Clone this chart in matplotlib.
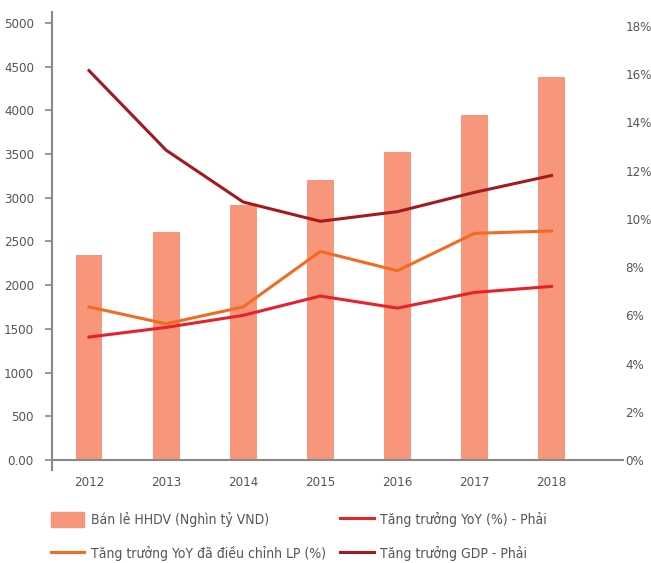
import numpy as np
import matplotlib.pyplot as plt
from matplotlib.patches import Patch
from matplotlib.lines import Line2D

years = ['2012', '2013', '2014', '2015', '2016', '2017', '2018']
ban_le = [2350, 2610, 2920, 3200, 3520, 3945, 4380]
yoy = [5.1, 5.5, 6.0, 6.8, 6.3, 6.95, 7.2]
yoy_lp = [6.35, 5.65, 6.35, 8.65, 7.85, 9.4, 9.5]
gdp = [16.15, 12.85, 10.7, 9.9, 10.3, 11.1, 11.8]

left_ticks = list(range(0, 5001, 500))
right_ticks = list(range(0, 19, 2))

plt.rcParams['font.family'] = ['DejaVu Sans']
plt.rcParams['font.stretch'] = 'condensed'
gray = '#555555'

fig = plt.figure(figsize=(6.51, 5.63), dpi=100)
ax = fig.add_axes([52/651, 1 - 470/563, (624 - 52)/651, (470 - 12)/563])
x = np.arange(len(years))

ax.bar(x, ban_le, width=0.35, color='#F7967A', zorder=1)
ax.set_xlim(-0.48, 6.94)
ax.set_ylim(-115, 5125)
ax.axhline(0, color='#888888', lw=1.5, zorder=3)
for s in ['top', 'right', 'bottom']:
    ax.spines[s].set_visible(False)
ax.spines['left'].set_color('#888888')
ax.spines['left'].set_linewidth(1.5)
ax.set_yticks(left_ticks)
ax.set_yticklabels(['0.00'] + [str(v) for v in left_ticks[1:]])
ax.tick_params(axis='y', colors='#888888', labelcolor=gray, labelsize=9.5,
               length=5, width=1.2, pad=8)
ax.set_xticks(x)
ax.set_xticklabels(years)
ax.tick_params(axis='x', length=0, labelcolor=gray, labelsize=9.5, pad=4)

ax2 = ax.twinx()
ax2.set_ylim(-0.414, 18.58)
ax2.plot(x, gdp, color='#A3191E', lw=2.2, zorder=4)
ax2.plot(x, yoy_lp, color='#F26B21', lw=2.2, zorder=4)
ax2.plot(x, yoy, color='#E8202A', lw=2.2, zorder=4)
for s in ax2.spines.values():
    s.set_visible(False)
ax2.set_yticks(right_ticks)
ax2.set_yticklabels([f'{v}%' for v in right_ticks])
ax2.tick_params(axis='y', length=0, labelcolor=gray, labelsize=9.5, pad=1)

handles = [Patch(color='#F7967A'),
           Line2D([], [], color='#F26B21', lw=2.2),
           Line2D([], [], color='#E8202A', lw=2.2),
           Line2D([], [], color='#A3191E', lw=2.2)]
labels = ['Bán lẻ HHDV (Nghìn tỷ VND)',
          'Tăng trưởng YoY đã điều chỉnh LP (%)',
          'Tăng trưởng YoY (%) - Phải',
          'Tăng trưởng GDP - Phải']
fig.legend(handles, labels, ncol=2, loc='upper left',
           bbox_to_anchor=(51/651, 1 - 512/563), frameon=False,
           borderpad=0, borderaxespad=0, handlelength=2.4, handleheight=1.3,
           handletextpad=0.5, columnspacing=1.0, labelspacing=1.35,
           fontsize=10, labelcolor=gray)

fig.savefig('out.png', dpi=100)
